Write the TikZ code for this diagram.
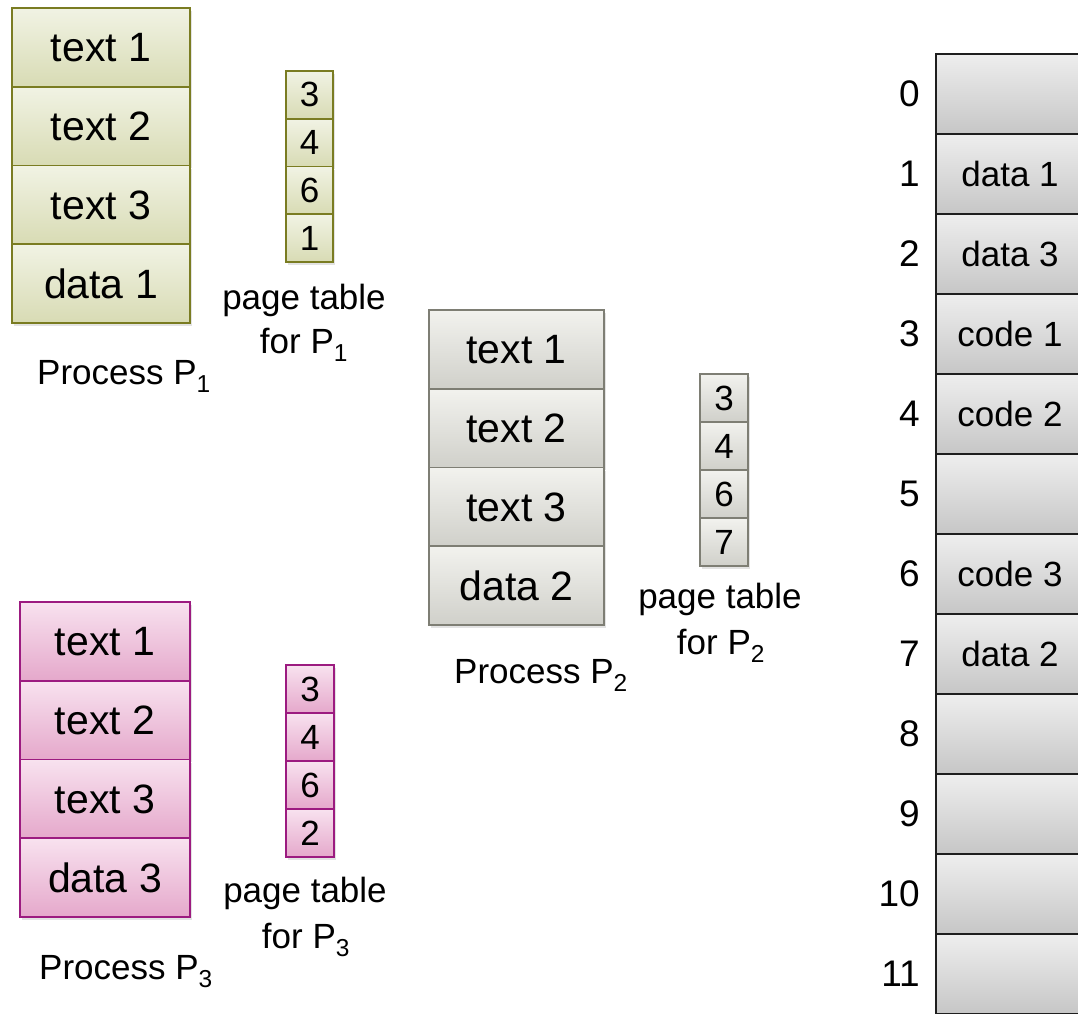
\documentclass[tikz,border=0pt]{standalone}
\usepackage{fontspec}
\setmainfont{Liberation Sans}
\usetikzlibrary{shadows}

\definecolor{olivebd}{HTML}{7A7C22}
\definecolor{olivetop}{HTML}{F1F3E4}
\definecolor{olivebot}{HTML}{D8DBB4}
\definecolor{graybd}{HTML}{7E7E74}
\definecolor{graytop}{HTML}{F2F2EE}
\definecolor{graybot}{HTML}{D0D0CA}
\definecolor{pinkbd}{HTML}{9C1B80}
\definecolor{pinktop}{HTML}{F8E2EF}
\definecolor{pinkbot}{HTML}{E5A8CB}
\definecolor{membd}{HTML}{1E1E1E}
\definecolor{memtop}{HTML}{EEEEEE}
\definecolor{membot}{HTML}{C6C6C6}

\begin{document}
\begin{tikzpicture}[x=1pt,y=-1pt,
  shad/.style={drop shadow={shadow xshift=1.5pt,shadow yshift=-3pt,opacity=0.22}},
  olivecell/.style={draw=olivebd,line width=1.6pt,top color=olivetop,bottom color=olivebot,inner sep=0pt,shad},
  graycell/.style={draw=graybd,line width=1.6pt,top color=graytop,bottom color=graybot,inner sep=0pt,shad},
  pinkcell/.style={draw=pinkbd,line width=1.6pt,top color=pinktop,bottom color=pinkbot,inner sep=0pt,shad},
  memcell/.style={draw=membd,line width=1.3pt,top color=memtop,bottom color=membot,inner sep=0pt,
    minimum width=148pt,minimum height=80pt,font=\fontsize{35}{42}\selectfont},
  bigtxt/.style={font=\fontsize{41}{49}\selectfont},
  ptxt/.style={font=\fontsize{35}{42}\selectfont},
  lbl/.style={inner sep=0pt,anchor=base,font=\fontsize{35}{42}\selectfont},
  idx/.style={inner sep=0pt,anchor=east,font=\fontsize{37}{44}\selectfont}]
\useasboundingbox (0,0) rectangle (1078,1013);
\clip (0,0) rectangle (1078,1013);

% ---------- Process P1 ----------
\begin{scope}[every node/.style={olivecell,bigtxt,minimum width=178pt,minimum height=78.75pt}]
\node (p1a) at (101,47.4) {text 1};
\node (p1b) at (101,126.1) {text 2};
\node (p1c) at (101,204.9) {text 3};
\node (p1d) at (101,283.6) {data 1};
\end{scope}
\begin{scope}[every node/.style={olivecell,ptxt,minimum width=47pt,minimum height=47.75pt}]
\node (t1a) at (309.5,94.9) {3};
\node (t1b) at (309.5,142.6) {4};
\node (t1c) at (309.5,190.4) {6};
\node (t1d) at (309.5,238.1) {1};
\end{scope}
\node[lbl] (t1l1) at (304,309) {page table};
\node[lbl] (t1l2) at (304,353) {for P\textsubscript{1}};
\node[lbl] (p1l) at (124,384) {Process P\textsubscript{1}};

% ---------- Process P2 ----------
\begin{scope}[every node/.style={graycell,bigtxt,minimum width=175pt,minimum height=78.75pt}]
\node (p2a) at (516.5,349.4) {text 1};
\node (p2b) at (516.5,428.1) {text 2};
\node (p2c) at (516.5,506.9) {text 3};
\node (p2d) at (516.5,585.6) {data 2};
\end{scope}
\begin{scope}[every node/.style={graycell,ptxt,minimum width=48pt,minimum height=48pt}]
\node (t2a) at (724,398) {3};
\node (t2b) at (724,446) {4};
\node (t2c) at (724,494) {6};
\node (t2d) at (724,542) {7};
\end{scope}
\node[lbl] (t2l1) at (720,608) {page table};
\node[lbl] (t2l2) at (721,654) {for P\textsubscript{2}};
\node[lbl] (p2l) at (541,683) {Process P\textsubscript{2}};

% ---------- Process P3 ----------
\begin{scope}[every node/.style={pinkcell,bigtxt,minimum width=170pt,minimum height=78.75pt}]
\node (p3a) at (105,641.4) {text 1};
\node (p3b) at (105,720.1) {text 2};
\node (p3c) at (105,798.9) {text 3};
\node (p3d) at (105,877.6) {data 3};
\end{scope}
\begin{scope}[every node/.style={pinkcell,ptxt,minimum width=48pt,minimum height=48pt}]
\node (t3a) at (310,689) {3};
\node (t3b) at (310,737) {4};
\node (t3c) at (310,785) {6};
\node (t3d) at (310,833) {2};
\end{scope}
\node[lbl] (t3l1) at (305,902) {page table};
\node[lbl] (t3l2) at (306,948) {for P\textsubscript{3}};
\node[lbl] (p3l) at (126,979) {Process P\textsubscript{3}};

% ---------- Physical memory ----------
\foreach \i/\t in {0/{},1/data 1,2/data 3,3/code 1,4/code 2,5/{},6/code 3,7/data 2,8/{},9/{},10/{},11/{}}{
  \node[memcell] (m\i) at (1010,{94+80*\i}) {\t};
  \node[idx] (n\i) at (920,{94+80*\i}) {\i};
}
\end{tikzpicture}
\end{document}
